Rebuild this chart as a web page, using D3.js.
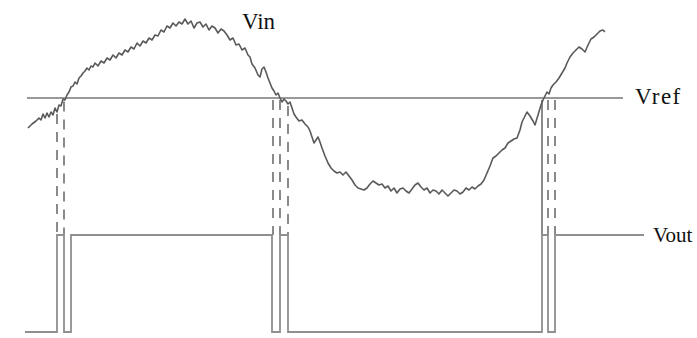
<!DOCTYPE html>
<html>
<head>
<meta charset="utf-8">
<script src="https://cdn.jsdelivr.net/npm/d3@7"></script>
<style>
html,body{margin:0;padding:0;background:#fff;}
svg{display:block;}
</style>
</head>
<body>
<svg id="chart" width="697" height="338"></svg>
<script>
// ---- data ----
const vinTime = [3,7,11,14,16,18,20,22,24,26,28,30,32,34,36,38,40,42,44,46,48,50,52,54,56,58,60,62,64,66,68,70,73,76,79,82,85,88,91,94,97,100,103,106,109,112,115,118,121,124,127,130,133,136,139,142,145,148,151,154,157,160,163,166,169,172,175,178,181,184,187,190,193,196,199,202,205,208,211,214,217,220,223,225,227,230,233,235,237,239,241,243,245,247,249,251,253,255,257,259,261,263,265,267,269,271,274,277,280,283,285,287,289,291,293,295,297,300,303,306,309,312,315,318,321,324,327,330,333,336,339,342,345,348,351,354,357,360,363,366,369,372,375,378,381,384,387,390,393,396,399,402,405,408,411,414,417,420,423,426,429,432,435,438,441,444,447,450,453,456,459,462,465,468,471,474,477,480,483,486,489,492,495,497,499,502,505,508,510,513,516,518,520,522,524,526,528,531,534,537,540,542,545,548,551,554,557,560,563,566,569,572,575,578,580];
const vinValue = [-30,-26,-23,-20,-22,-16,-20,-15,-19,-14,-17,-10,-14,-7,-8,-1,-2,3,6,11,12,16,14,20,22,25,27,30,28,32,31,35,32,37,35,40,38,43,40,45,43,48,46,51,49,55,52,57,55,60,58,63,62,68,66,72,70,75,72,76,74,79,74,77,70,75,76,71,74,68,72,70,65,69,67,63,58,60,53,54,48,50,43,41,34,30,23,21,29,31,26,20,15,10,7,3,5,0,-4,-1,-3,-6,-4,-10,-16,-19,-23,-22,-26,-29,-33,-39,-45,-42,-39,-44,-50,-58,-65,-70,-73,-75,-74,-77,-74,-78,-82,-87,-90,-91,-92,-90,-86,-83,-85,-87,-86,-90,-88,-93,-90,-95,-91,-90,-93,-95,-91,-87,-85,-89,-92,-90,-95,-92,-93,-96,-92,-95,-98,-95,-92,-93,-96,-94,-90,-92,-89,-91,-88,-86,-82,-75,-68,-60,-58,-55,-52,-50,-45,-43,-41,-40,-32,-24,-20,-14,-18,-23,-27,-17,-7,-2,2,6,4,10,13,16,20,25,30,35,41,45,48,51,49,46,53,59,61,64,67,68,66];
const vrefValue = 0;
const vrefSpan = [2, 598];
const voutTime  = [0, 32, 39, 46, 247, 255, 263, 517, 523, 530, 619];
const voutLevel = [0, 1, 0, 1, 0, 1, 0, 1, 0, 1, 1];
const dashedTimes = [32, 39, 248, 255, 263, 523, 530];
const solidTimes = [517];
const labels = {vin: "Vin", vref: "Vref", vout: "Vout"};

// ---- scales ----
const svg = d3.select("#chart");
const x = d3.scaleLinear().domain([0, 672]).range([25, 697]);
const yIn = d3.scaleLinear().domain([-100, 100]).range([198, -2]);
const yOut = d3.scaleLinear().domain([0, 1]).range([332, 235]);

// interpolate Vin at time t
function vinAt(t){
  const i = d3.bisectLeft(vinTime, t);
  if (i <= 0) return vinValue[0];
  if (i >= vinTime.length) return vinValue[vinValue.length-1];
  const t0 = vinTime[i-1], t1 = vinTime[i];
  const f = (t - t0) / (t1 - t0);
  return vinValue[i-1] + f * (vinValue[i] - vinValue[i-1]);
}

// projection lines
svg.append("g").selectAll("line.dash").data(dashedTimes).join("line")
  .attr("x1", d => x(d)).attr("x2", d => x(d))
  .attr("y1", d => Math.max(yIn(vinAt(d)), yIn(vrefValue)) + 2)
  .attr("y2", yOut(1))
  .attr("stroke", "#8a8a8a").attr("stroke-width", 2)
  .attr("stroke-dasharray", "10,8");

svg.append("g").selectAll("line.solid").data(solidTimes).join("line")
  .attr("x1", d => x(d)).attr("x2", d => x(d))
  .attr("y1", d => yIn(vrefValue) + 2)
  .attr("y2", yOut(1))
  .attr("stroke", "#8a8a8a").attr("stroke-width", 2);

// Vref line
svg.append("line")
  .attr("x1", x(vrefSpan[0])).attr("x2", x(vrefSpan[1]))
  .attr("y1", yIn(vrefValue)).attr("y2", yIn(vrefValue))
  .attr("stroke", "#999").attr("stroke-width", 2);

// Vout
const outData = voutTime.map((t, i) => [t, voutLevel[i]]);
svg.append("path").datum(outData)
  .attr("fill", "none").attr("stroke", "#8f8f8f").attr("stroke-width", 1.8)
  .attr("d", d3.line().x(d => x(d[0])).y(d => yOut(d[1])).curve(d3.curveStepAfter));

// Vin
const inData = vinTime.map((t, i) => [t, vinValue[i]]);
svg.append("path").datum(inData)
  .attr("fill", "none").attr("stroke", "#5a5a5a").attr("stroke-width", 1.6)
  .attr("stroke-linejoin", "round")
  .attr("d", d3.line().x(d => x(d[0])).y(d => yIn(d[1])));

// labels
const font = "'Liberation Serif', 'Times New Roman', serif";
svg.append("text").attr("x", 242).attr("y", 29).text(labels.vin)
  .attr("font-family", font).attr("font-size", 23).attr("fill", "#111");
svg.append("text").attr("x", 635).attr("y", 104).text(labels.vref)
  .attr("font-family", font).attr("font-size", 23).attr("fill", "#111").attr("letter-spacing", 1.5);
svg.append("text").attr("x", 653).attr("y", 242).text(labels.vout)
  .attr("font-family", font).attr("font-size", 21).attr("fill", "#111");
</script>
</body>
</html>
